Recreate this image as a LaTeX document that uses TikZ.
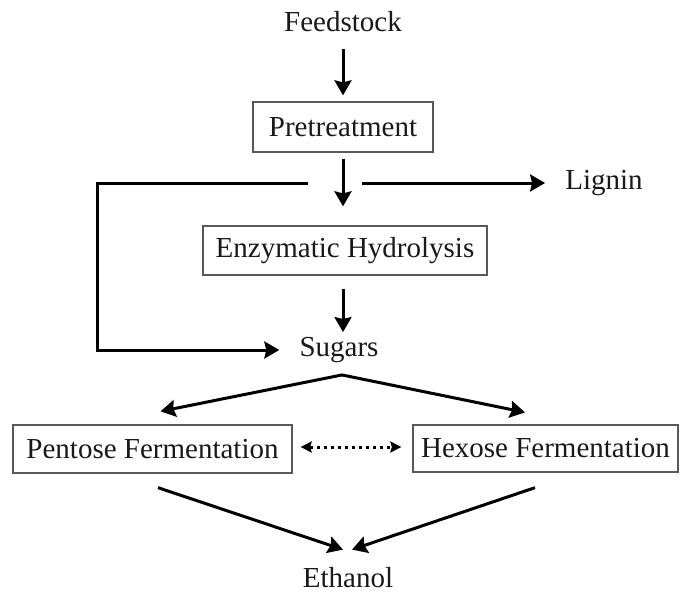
\documentclass[tikz,border=0pt]{standalone}
\usepackage{fontspec}
\setmainfont{Liberation Serif}
\usetikzlibrary{arrows.meta,calc}
\begin{document}
\begin{tikzpicture}[x=1pt,y=-1pt,
  txt/.style={inner sep=0pt, font=\fontsize{29}{32}\selectfont, text=black!90},
  stagebox/.style={txt, draw=black!65, line width=1.3pt, align=center},
  arr/.style={line width=3pt, -{Stealth[length=15pt,width=17pt,inset=2pt]}},
  dotarr/.style={line width=3pt, dash pattern=on 3pt off 4pt, {Stealth[length=11pt,width=11pt,inset=1.5pt,sep=1pt]}-{Stealth[length=11pt,width=11pt,inset=1.5pt,sep=1pt]}}
]
\useasboundingbox (0,0) rectangle (680,595);
% nodes
\node[txt] (feed) at (343,22) {Feedstock};
\node[stagebox, minimum width=180pt, minimum height=50pt] (pre) at (343,127) {Pretreatment};
\node[stagebox, minimum width=284pt, minimum height=49pt] (enz) at (345,250.5) {Enzymatic Hydrolysis};
\node[txt] (lig) at (604,183) {Lignin};
\node[txt] (sug) at (339,350) {Sugars};
\node[stagebox, minimum width=279pt, minimum height=48pt] (pen) at (152.5,449) {Pentose Fermentation};
\node[stagebox, minimum width=265pt, minimum height=47pt] (hex) at (545.5,448.5) {Hexose Fermentation};
\node[txt] (eth) at (348,578) {Ethanol};
\coordinate (mid) at (pre.south |- lig.west);
% connectors
\draw[arr] ($(feed.south)+(0,17)$) -- ($(pre.north)+(0,-6)$);
\draw[arr] ($(pre.south)+(0,6)$) -- ($(pre.south |- enz.north)+(0,-19)$);
\draw[arr] ($(mid)+(19,0)$) -- ($(lig.west)+(-20,0)$);
\draw[arr] ($(mid)+(-35,0)$) -- ($(mid)+(-246,0)$) |- ($(sug.west)+(-20,0)$);
\draw[arr] ($(pre.south |- enz.south)+(0,13)$) -- ($(pre.south |- sug.north)+(0,-5)$);
\draw[arr] ($(sug.south)+(3,12)$) -- ($(pen.north)+(8,-13)$);
\draw[arr] ($(sug.south)+(3,12)$) -- ($(hex.north)+(-20.5,-12)$);
\draw[dotarr] ($(pen.east)+(7,-2)$) -- ($(hex.west)+(-10,-1.5)$);
\draw[arr] ($(pen.south)+(5.5,14)$) -- ($(eth.north)+(-5,-18)$);
\draw[arr] ($(hex.south)+(-10.5,15)$) -- ($(eth.north)+(4,-18)$);
\end{tikzpicture}
\end{document}
